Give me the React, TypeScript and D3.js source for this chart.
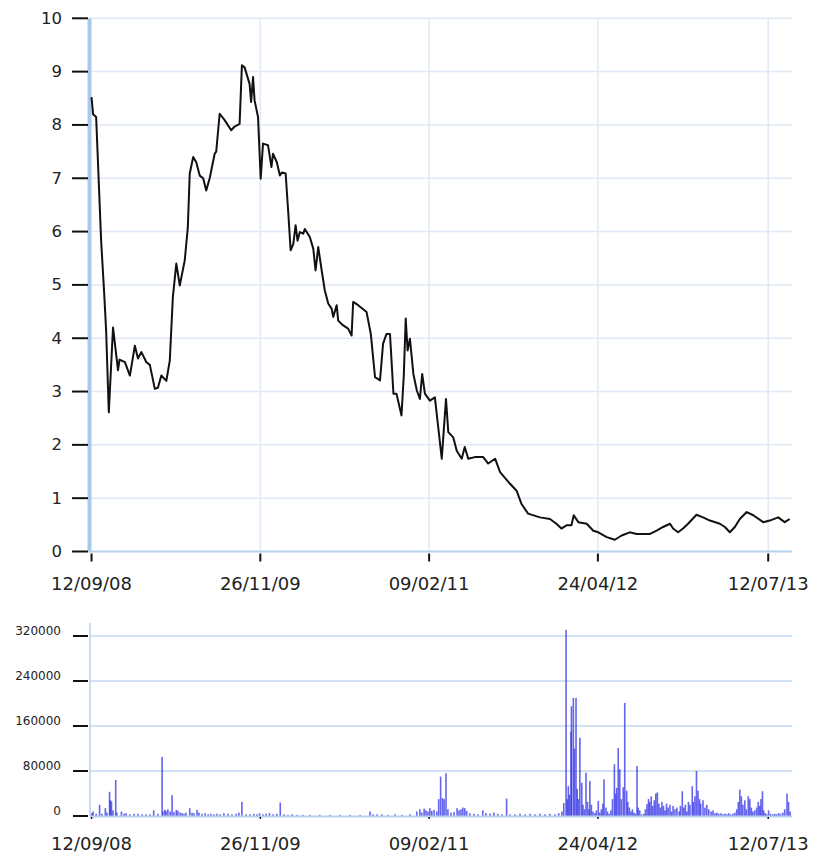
import * as d3 from 'd3';
import React, { useRef, useEffect } from 'react';

// closing price
const priceDates = [
  "2008-09-12", "2008-09-16", "2008-09-24", "2008-10-07", "2008-10-15", "2008-10-20", "2008-10-27", "2008-11-07",
  "2008-11-20", "2008-11-24", "2008-12-08", "2008-12-21", "2009-01-03", "2009-01-11", "2009-01-20", "2009-02-02",
  "2009-02-11", "2009-02-24", "2009-03-04", "2009-03-13", "2009-03-26", "2009-04-04", "2009-04-12", "2009-04-21",
  "2009-04-30", "2009-05-13", "2009-05-21", "2009-05-26", "2009-06-04", "2009-06-12", "2009-06-21", "2009-06-30",
  "2009-07-08", "2009-07-17", "2009-07-30", "2009-08-03", "2009-08-12", "2009-08-25", "2009-09-11", "2009-09-20",
  "2009-10-03", "2009-10-09", "2009-10-16", "2009-10-29", "2009-11-02", "2009-11-07", "2009-11-11", "2009-11-20",
  "2009-11-27", "2009-12-03", "2009-12-16", "2009-12-25", "2009-12-29", "2010-01-08", "2010-01-16", "2010-01-21",
  "2010-01-31", "2010-02-07", "2010-02-13", "2010-02-20", "2010-02-26", "2010-03-03", "2010-03-09", "2010-03-18",
  "2010-03-22", "2010-04-04", "2010-04-13", "2010-04-19", "2010-04-26", "2010-05-05", "2010-05-13", "2010-05-22",
  "2010-05-31", "2010-06-04", "2010-06-13", "2010-06-17", "2010-06-30", "2010-07-13", "2010-07-22", "2010-07-26",
  "2010-08-08", "2010-08-30", "2010-09-10", "2010-09-21", "2010-10-04", "2010-10-12", "2010-10-21", "2010-10-30",
  "2010-11-08", "2010-11-16", "2010-11-29", "2010-12-05", "2010-12-10", "2010-12-15", "2010-12-21", "2010-12-30",
  "2011-01-08", "2011-01-16", "2011-01-22", "2011-01-29", "2011-02-11", "2011-02-24", "2011-03-14", "2011-03-25",
  "2011-03-31", "2011-04-13", "2011-04-22", "2011-05-05", "2011-05-13", "2011-05-22", "2011-06-08", "2011-06-30",
  "2011-07-13", "2011-07-31", "2011-08-13", "2011-09-08", "2011-09-25", "2011-10-08", "2011-10-25", "2011-11-25",
  "2011-12-21", "2012-01-07", "2012-01-20", "2012-02-02", "2012-02-15", "2012-02-21", "2012-03-04", "2012-03-26",
  "2012-04-12", "2012-04-25", "2012-05-17", "2012-06-07", "2012-06-25", "2012-07-16", "2012-08-03", "2012-09-07",
  "2012-09-24", "2012-10-11", "2012-10-29", "2012-11-06", "2012-11-19", "2012-12-02", "2012-12-15", "2013-01-06",
  "2013-01-23", "2013-02-10", "2013-03-08", "2013-03-21", "2013-04-03", "2013-04-16", "2013-04-29", "2013-05-17",
  "2013-06-03", "2013-06-29", "2013-07-16", "2013-08-07", "2013-08-24", "2013-09-06",
];
const priceValues = [
  8.52, 8.2, 8.15, 5.83, 4.84, 4.15, 2.61, 4.2,
  3.4, 3.6, 3.55, 3.3, 3.86, 3.62, 3.74, 3.55,
  3.5, 3.05, 3.07, 3.3, 3.2, 3.58, 4.77, 5.4,
  4.99, 5.46, 6.08, 7.09, 7.4, 7.3, 7.05, 7.0,
  6.77, 7.0, 7.46, 7.5, 8.21, 8.09, 7.9, 7.97,
  8.02, 9.12, 9.08, 8.77, 8.43, 8.9, 8.46, 8.15,
  6.99, 7.65, 7.62, 7.21, 7.46, 7.3, 7.05, 7.11,
  7.09, 6.34, 5.65, 5.77, 6.12, 5.83, 5.99, 5.96,
  6.05, 5.9, 5.68, 5.27, 5.71, 5.27, 4.9, 4.65,
  4.55, 4.4, 4.62, 4.33, 4.24, 4.18, 4.05, 4.68,
  4.62, 4.49, 4.08, 3.27, 3.21, 3.9, 4.08, 4.08,
  2.96, 2.96, 2.55, 3.3, 4.37, 3.77, 3.99, 3.33,
  3.02, 2.86, 3.33, 2.96, 2.83, 2.89, 1.74, 2.86,
  2.24, 2.14, 1.89, 1.74, 1.96, 1.74, 1.77, 1.77,
  1.65, 1.74, 1.49, 1.27, 1.14, 0.89, 0.71, 0.64,
  0.61, 0.52, 0.43, 0.49, 0.49, 0.68, 0.55, 0.52,
  0.39, 0.36, 0.27, 0.22, 0.3, 0.36, 0.33, 0.33,
  0.39, 0.46, 0.52, 0.43, 0.36, 0.43, 0.52, 0.69,
  0.64, 0.58, 0.52, 0.46, 0.36, 0.46, 0.61, 0.74,
  0.68, 0.55, 0.58, 0.64, 0.55, 0.61,
];

// volume: day number counted from 12/09/08, and the traded volume on that day
const volumeDays = [
  1, 4, 12, 21, 27, 36, 40, 47, 49, 52, 56, 63, 66, 78, 85, 90, 100, 111, 121, 132,
  142, 152, 162, 173, 184, 186, 191, 194, 199, 205, 210, 215, 221, 225, 231, 236, 241, 246, 256, 262,
  267, 275, 280, 288, 296, 304, 311, 319, 327, 335, 345, 356, 366, 377, 384, 392, 403, 413, 423, 431,
  438, 447, 455, 464, 473, 483, 492, 502, 512, 523, 536, 551, 569, 595, 621, 648, 674, 700, 726, 734,
  744, 757, 773, 791, 809, 830, 848, 856, 861, 867, 872, 877, 882, 887, 893, 900, 905, 910, 915, 919,
  924, 929, 937, 945, 953, 958, 963, 968, 973, 978, 986, 997, 1007, 1020, 1028, 1039, 1049, 1059, 1070, 1082,
  1091, 1104, 1117, 1130, 1143, 1156, 1169, 1182, 1195, 1208, 1218, 1226, 1231, 1237, 1240, 1243, 1246, 1250, 1251, 1256,
  1259, 1263, 1266, 1269, 1273, 1278, 1281, 1285, 1289, 1293, 1297, 1299, 1303, 1307, 1312, 1316, 1321, 1325, 1329, 1333,
  1336, 1341, 1345, 1349, 1354, 1358, 1363, 1366, 1369, 1373, 1377, 1381, 1386, 1390, 1395, 1398, 1402, 1406, 1410, 1414,
  1418, 1422, 1425, 1429, 1434, 1440, 1444, 1448, 1452, 1455, 1459, 1463, 1467, 1471, 1475, 1479, 1483, 1487, 1491, 1495,
  1499, 1503, 1508, 1512, 1516, 1521, 1526, 1532, 1535, 1540, 1544, 1548, 1552, 1556, 1560, 1566, 1569, 1573, 1577, 1581,
  1585, 1588, 1594, 1599, 1604, 1609, 1615, 1620, 1625, 1630, 1635, 1641, 1646, 1651, 1656, 1661, 1666, 1672, 1677, 1682,
  1686, 1690, 1694, 1698, 1703, 1707, 1712, 1716, 1720, 1724, 1729, 1734, 1738, 1742, 1745, 1749, 1752, 1756, 1760, 1765,
  1770, 1776, 1781, 1786, 1791, 1796, 1802, 1807, 1813, 1817, 1821,
];
const volumeValues = [
  5000, 8000, 4000, 20000, 4000, 14000, 6000, 43000, 28000, 26000, 10000, 64000, 6000, 8000, 4000, 5000, 3000, 4000, 4000, 3000,
  3000, 3000, 10000, 4000, 105000, 8000, 11000, 9000, 12000, 8000, 37000, 7000, 11000, 9000, 6000, 5000, 4000, 6000, 14000, 6000,
  5000, 11000, 6000, 4000, 5000, 3000, 4000, 3000, 4000, 3000, 5000, 4000, 3000, 4000, 6000, 25000, 3000, 3000, 4000, 3000,
  5000, 3000, 4000, 5000, 3000, 4000, 24000, 3000, 2000, 3000, 2000, 2000, 2000, 2000, 2000, 2000, 2000, 2000, 8000, 3000,
  3000, 3000, 2000, 3000, 2000, 3000, 8000, 12000, 6000, 13000, 10000, 8000, 14000, 9000, 11000, 8000, 30000, 70000, 32000, 30000,
  76000, 12000, 6000, 7000, 14000, 10000, 12000, 15000, 14000, 9000, 5000, 4000, 3000, 10000, 5000, 4000, 6000, 4000, 3000, 31000,
  3000, 3000, 4000, 3000, 4000, 3000, 4000, 3000, 4000, 3000, 5000, 8000, 23000, 331000, 30000, 53000, 38000, 150000, 195000, 210000,
  120000, 210000, 48000, 30000, 139000, 59000, 20000, 12000, 77000, 25000, 12000, 62000, 20000, 8000, 5000, 10000, 27000, 6000, 12000, 22000,
  65000, 15000, 8000, 4000, 10000, 30000, 92000, 40000, 50000, 121000, 83000, 30000, 51000, 201000, 45000, 25000, 15000, 8000, 12000, 6000,
  4000, 89000, 15000, 10000, 3000, 4000, 12000, 21000, 30000, 25000, 35000, 18000, 28000, 40000, 42000, 22000, 15000, 25000, 18000, 10000,
  22000, 15000, 20000, 8000, 18000, 12000, 15000, 8000, 18000, 44000, 15000, 20000, 8000, 25000, 20000, 53000, 25000, 35000, 80000, 45000,
  30000, 22000, 28000, 15000, 20000, 12000, 8000, 10000, 5000, 6000, 4000, 5000, 3000, 4000, 3000, 5000, 3000, 4000, 6000, 12000,
  25000, 47000, 35000, 20000, 28000, 12000, 35000, 30000, 15000, 8000, 10000, 15000, 25000, 18000, 30000, 44000, 10000, 5000, 3000, 10000,
  4000, 3000, 4000, 3000, 5000, 4000, 6000, 12000, 40000, 25000, 8000,
];

const xTickDates = ["2008-09-12", "2009-11-26", "2011-02-09", "2012-04-24", "2013-07-12"];
const priceTicks = [0, 1, 2, 3, 4, 5, 6, 7, 8, 9, 10];
const volumeTicks = [0, 80000, 160000, 240000, 320000];

function App() {
  const ref = useRef(null);

  useEffect(() => {
    const svg = d3.select(ref.current);
    svg.selectAll('*').remove();

    const parse = d3.timeParse('%Y-%m-%d');
    const fmt = d3.timeFormat('%d/%m/%y');
    const font = 'DejaVu Sans, Verdana, sans-serif';
    const textColor = '#222';

    const x = d3
      .scaleTime()
      .domain([parse('2008-09-08') as Date, parse('2013-09-12') as Date])
      .range([90, 792]);
    const left = 90;
    const right = 792;
    const tickDates = xTickDates.map((d) => parse(d) as Date);

    // ---- price chart ----
    const y = d3.scaleLinear().domain([0, 10]).range([551.5, 18.3]);
    const top = svg.append('g');

    top.selectAll('.hgrid')
      .data(priceTicks.filter((t) => t > 0))
      .enter().append('line')
      .attr('x1', left).attr('x2', right)
      .attr('y1', (d) => y(d)).attr('y2', (d) => y(d))
      .attr('stroke', '#e0e9f5').attr('stroke-width', 1.5);

    top.selectAll('.vgrid')
      .data(tickDates.slice(1))
      .enter().append('line')
      .attr('x1', (d) => x(d)).attr('x2', (d) => x(d))
      .attr('y1', y(10)).attr('y2', y(0))
      .attr('stroke', '#e0e9f5').attr('stroke-width', 1.5);

    top.append('rect')
      .attr('x', left - 2.5).attr('y', y(10))
      .attr('width', 4).attr('height', y(0) - y(10))
      .attr('fill', '#a9c9ea');

    top.append('line')
      .attr('x1', left - 2).attr('x2', right)
      .attr('y1', y(0)).attr('y2', y(0))
      .attr('stroke', '#b7d0ee').attr('stroke-width', 2);

    top.selectAll('.ytick')
      .data(priceTicks)
      .enter().append('line')
      .attr('x1', 72).attr('x2', 88)
      .attr('y1', (d) => y(d)).attr('y2', (d) => y(d))
      .attr('stroke', '#111').attr('stroke-width', 2);

    top.selectAll('.ylabel')
      .data(priceTicks)
      .enter().append('text')
      .attr('x', 62).attr('y', (d) => y(d))
      .attr('text-anchor', 'end').attr('dominant-baseline', 'central')
      .attr('font-family', font).attr('font-size', 16.5).attr('fill', textColor)
      .text((d) => String(d));

    top.selectAll('.xtick')
      .data(tickDates)
      .enter().append('line')
      .attr('x1', (d) => x(d)).attr('x2', (d) => x(d))
      .attr('y1', y(0) + 2).attr('y2', y(0) + 10)
      .attr('stroke', '#111').attr('stroke-width', 2);

    top.selectAll('.xlabel')
      .data(tickDates)
      .enter().append('text')
      .attr('x', (d) => x(d)).attr('y', 590)
      .attr('text-anchor', 'middle')
      .attr('font-family', font).attr('font-size', 18).attr('fill', textColor)
      .text((d) => fmt(d));

    const priceData = priceDates.map((d, i) => ({ date: parse(d) as Date, value: priceValues[i] }));
    const line = d3.line<{ date: Date; value: number }>()
      .x((d) => x(d.date))
      .y((d) => y(d.value));

    top.append('path')
      .datum(priceData)
      .attr('fill', 'none')
      .attr('stroke', '#111')
      .attr('stroke-width', 2)
      .attr('stroke-linejoin', 'round')
      .attr('d', line);

    // ---- volume chart ----
    const yv = d3.scaleLinear().domain([0, 320000]).range([816, 636]);
    const bottom = svg.append('g');
    const start = parse(xTickDates[0]) as Date;

    bottom.selectAll('.hgrid')
      .data(volumeTicks.filter((t) => t > 0))
      .enter().append('line')
      .attr('x1', left).attr('x2', right)
      .attr('y1', (d) => yv(d)).attr('y2', (d) => yv(d))
      .attr('stroke', '#c3d7ef').attr('stroke-width', 1.5);

    bottom.append('line')
      .attr('x1', left).attr('x2', left)
      .attr('y1', 623).attr('y2', yv(0))
      .attr('stroke', '#b8cfec').attr('stroke-width', 1.5);

    bottom.selectAll('.bar')
      .data(volumeDays.map((d, i) => ({ date: d3.timeDay.offset(start, d), value: volumeValues[i] })))
      .enter().append('rect')
      .attr('x', (d) => x(d.date) - 0.8)
      .attr('width', 1.6)
      .attr('y', (d) => yv(d.value))
      .attr('height', (d) => yv(0) - yv(d.value))
      .attr('fill', '#3030e6')
      .attr('fill-opacity', 0.75);

    bottom.append('line')
      .attr('x1', left).attr('x2', right)
      .attr('y1', yv(0) + 0.5).attr('y2', yv(0) + 0.5)
      .attr('stroke', '#b8cfec').attr('stroke-width', 2);

    bottom.selectAll('.ytick')
      .data(volumeTicks)
      .enter().append('line')
      .attr('x1', 73).attr('x2', 88)
      .attr('y1', (d) => yv(d)).attr('y2', (d) => yv(d))
      .attr('stroke', '#111').attr('stroke-width', 2);

    bottom.selectAll('.ylabel')
      .data(volumeTicks)
      .enter().append('text')
      .attr('x', 61).attr('y', (d) => yv(d) - 5)
      .attr('text-anchor', 'end').attr('dominant-baseline', 'central')
      .attr('font-family', font).attr('font-size', 12).attr('fill', textColor)
      .text((d) => String(d));

    bottom.selectAll('.xtick')
      .data(tickDates)
      .enter().append('line')
      .attr('x1', (d) => x(d)).attr('x2', (d) => x(d))
      .attr('y1', yv(0) + 1).attr('y2', yv(0) + 3)
      .attr('stroke', '#111').attr('stroke-width', 1.5);

    bottom.selectAll('.xlabel')
      .data(tickDates)
      .enter().append('text')
      .attr('x', (d) => x(d)).attr('y', 850)
      .attr('text-anchor', 'middle')
      .attr('font-family', font).attr('font-size', 18).attr('fill', textColor)
      .text((d) => fmt(d));
  }, []);

  return (
    <svg
      ref={ref}
      width={813}
      height={857}
      style={{ position: 'absolute', left: 0, top: 0, background: '#fff' }}
    />
  );
}

export default App;
